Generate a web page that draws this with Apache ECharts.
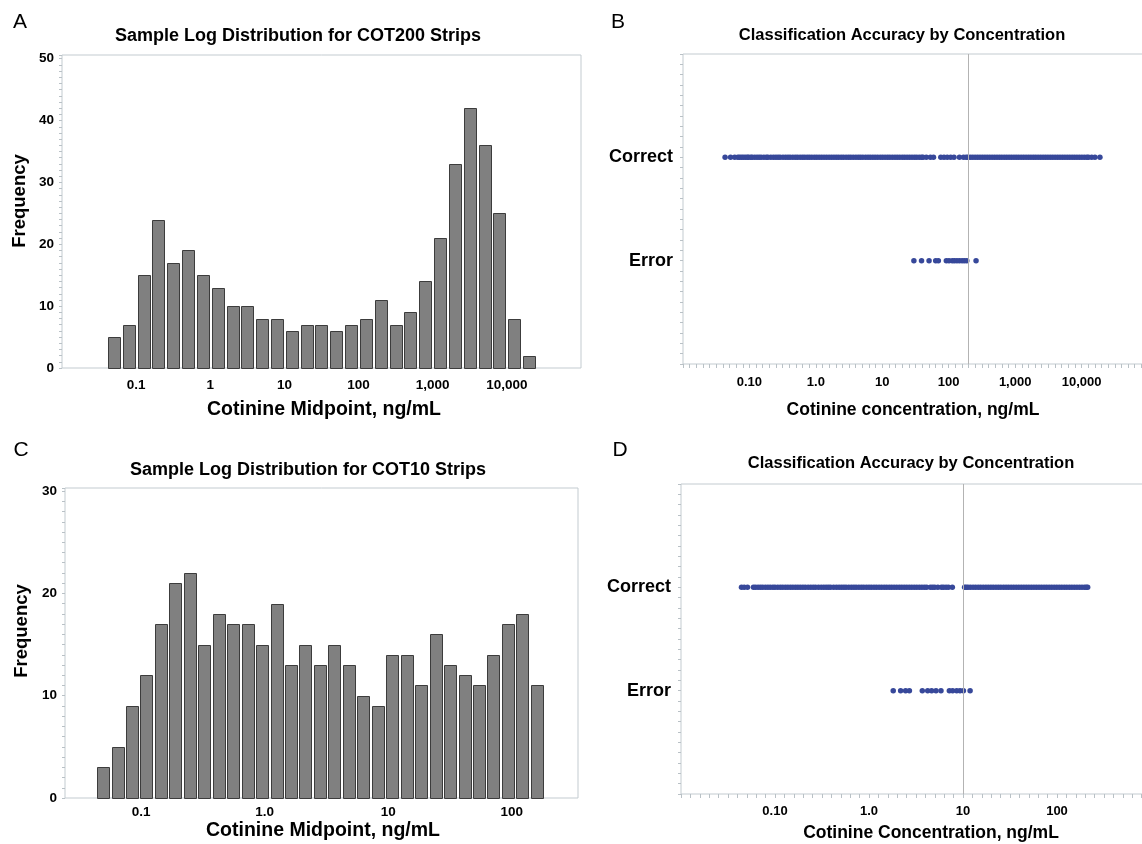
<!DOCTYPE html>
<html>
<head>
    <meta charset="utf-8">
    <title>Cotinine strips</title>
    <script src="https://cdn.jsdelivr.net/npm/echarts@6.0.0/dist/echarts.min.js"></script>
    <style>
      body, canvas {
        padding: 0;
        margin: 0;
      }
    </style>
</head>
<body>
    <div id="main" style="width:1142px;height:844px"></div>
    <script type="text/javascript">
      // panel A: COT200 histogram (bin midpoints in ng/mL)
      const cot200Mid = [0.05, 0.079, 0.126, 0.2, 0.316, 0.5, 0.794, 1.26, 2, 3.16, 5, 7.94, 12.6, 20, 31.6,
        50, 79.4, 126, 200, 316, 501, 794, 1259, 1995, 3162, 5012, 7943, 12589, 19953];
      const cot200Freq = [5, 7, 15, 24, 17, 19, 15, 13, 10, 10, 8, 8, 6, 7, 7,
        6, 7, 8, 11, 7, 9, 14, 21, 33, 42, 36, 25, 8, 2];

      // panel C: COT10 histogram
      const cot10Mid = [0.0492, 0.0644, 0.0843, 0.1104, 0.1445, 0.1892, 0.2477, 0.3243, 0.4246, 0.5559, 0.7278,
        0.9528, 1.247, 1.633, 2.138, 2.799, 3.664, 4.797, 6.281, 8.222, 10.76, 14.09, 18.45, 24.15,
        31.62, 41.4, 54.2, 70.96, 92.9, 121.6, 159.2];
      const cot10Freq = [3, 5, 9, 12, 17, 21, 22, 15, 18, 17, 17, 15, 19, 13, 15, 13, 15, 13, 10, 9,
        14, 14, 11, 16, 13, 12, 11, 14, 17, 18, 11];

      // panel B: COT200 classification by concentration
      const cot200Cutoff = 200;
      const cot200Correct = [0.043, 0.052, 0.06, 0.067, 0.071, 0.076, 0.081, 0.087, 0.093, 0.097, 0.105, 0.11,
        0.12, 0.13, 0.14, 0.15, 0.165, 0.18, 0.19, 0.21, 0.23, 0.25, 0.27, 0.29, 0.32, 0.35, 0.38, 0.41,
        0.45, 0.49, 0.53, 0.58, 0.63, 0.68, 0.74, 0.8, 0.87, 0.95, 1.03, 1.12, 1.22, 1.33, 1.45, 1.58,
        1.72, 1.87, 2.03, 2.2, 2.4, 2.6, 2.85, 3.1, 3.35, 3.65, 4, 4.35, 4.7, 5.1, 5.6, 6.1, 6.6, 7.2,
        7.8, 8.5, 9.3, 10.1, 11, 12, 13, 14.2, 15.5, 16.8, 18.3, 20, 21.7, 23.6, 25.7, 28, 30.5, 33, 36,
        39, 41, 46, 53, 59, 76, 85, 95, 107, 120, 145, 167, 183, 195, 212, 230, 250, 272, 296, 322, 350,
        380, 414, 450, 490, 533, 580, 630, 685, 745, 810, 880, 960, 1040, 1130, 1230, 1340, 1460, 1590,
        1730, 1880, 2040, 2220, 2420, 2630, 2860, 3110, 3380, 3680, 4000, 4350, 4730, 5150, 5600, 6090,
        6620, 7200, 7830, 8520, 9270, 10100, 11000, 12000, 12700, 14200, 15900, 18900];
      const cot200Error = [29.9, 39, 50.6, 63.7, 69.8, 92, 101, 113, 122, 133, 145, 159, 172, 187, 258];

      // panel D: COT10 classification by concentration
      const cot10Cutoff = 10;
      const cot10Correct = [0.044, 0.047, 0.051, 0.059, 0.062, 0.066, 0.07, 0.074, 0.079, 0.084, 0.089, 0.095,
        0.1, 0.107, 0.114, 0.121, 0.129, 0.137, 0.146, 0.155, 0.165, 0.175, 0.186, 0.198, 0.21, 0.225,
        0.24, 0.255, 0.27, 0.29, 0.31, 0.33, 0.35, 0.37, 0.39, 0.42, 0.45, 0.48, 0.51, 0.54, 0.57, 0.61,
        0.65, 0.69, 0.73, 0.78, 0.83, 0.88, 0.94, 1, 1.06, 1.13, 1.2, 1.28, 1.36, 1.45, 1.54, 1.64, 1.74,
        1.85, 1.97, 2.1, 2.23, 2.37, 2.52, 2.68, 2.85, 3.03, 3.22, 3.43, 3.65, 3.88, 4.1, 4.5, 4.75, 5,
        5.4, 5.9, 6.2, 6.6, 7, 7.7, 10.4, 10.8, 11.3, 12, 12.8, 13.6, 14.5, 15.4, 16.4, 17.5, 18.6, 19.8,
        21, 22.4, 23.8, 25.3, 27, 28.7, 30.5, 32.5, 34.6, 36.8, 39.2, 41.7, 44.4, 47.2, 50.2, 53.4, 56.8,
        60.4, 64.3, 68.4, 72.8, 77.4, 82.4, 87.7, 93.3, 99.3, 105.6, 112.4, 119.6, 127.2, 135.4, 144, 153,
        163, 173.5, 184.6, 196.5, 205, 212];
      const cot10Error = [1.81, 2.17, 2.45, 2.69, 3.69, 4.21, 4.64, 5.16, 5.83, 7.16, 7.76, 8.57, 9.29, 10.1, 11.9];

      // tick labels
      const ticksA = [0.1, 1, 10, 100, 1000, 10000];
      const tickTextA = ['0.1', '1', '10', '100', '1,000', '10,000'];
      const ticksB = [0.1, 1, 10, 100, 1000, 10000];
      const tickTextB = ['0.10', '1.0', '10', '100', '1,000', '10,000'];
      const ticksC = [0.1, 1, 10, 100];
      const tickTextC = ['0.1', '1.0', '10', '100'];
      const ticksD = [0.1, 1, 10, 100];
      const tickTextD = ['0.10', '1.0', '10', '100'];
      const rowNames = ['Error', 'Correct'];   // drawn at y = 1, 2

      const FONT = '"Liberation Sans", Arial, sans-serif';
      const BORDER = '#c3cbd0';
      const TICK = '#b9c1c6';
      const DOT = '#37489a';

      function logLabel(ticks, texts) {
        return function (v) {
          for (let i = 0; i < ticks.length; i++) {
            if (Math.abs(Math.log10(v) - Math.log10(ticks[i])) < 1e-6) return texts[i];
          }
          return '';
        };
      }

      function barRenderer(step, ratio) {
        return function (params, api) {
          const mid = api.value(0);
          const top = api.coord([mid, api.value(1)]);
          const base = api.coord([mid, 0]);
          const next = api.coord([mid * Math.pow(10, step), 0]);
          const w = Math.round((next[0] - base[0]) * ratio);
          const x0 = Math.round(top[0] - w / 2) + 0.5;
          const y0 = Math.round(top[1]) + 0.5;
          return {
            type: 'rect',
            shape: { x: x0, y: y0, width: w, height: Math.round(base[1]) - Math.round(top[1]) },
            style: { fill: '#808080', stroke: '#3c3c3c', lineWidth: 1 }
          };
        };
      }

      function histX(grid, min, max, ticks, texts, margin) {
        return {
          type: 'log', logBase: 10, gridIndex: grid, min: min, max: max, position: 'bottom',
          axisLine: { show: false, onZero: false }, axisTick: { show: false }, splitLine: { show: false },
          axisLabel: { formatter: logLabel(ticks, texts), margin: margin, color: '#000',
            fontFamily: FONT, fontWeight: 'bold', fontSize: 13.5 }
        };
      }

      function histY(grid, max) {
        return {
          type: 'value', gridIndex: grid, min: 0, max: max, interval: 1, position: 'left',
          axisLine: { show: false, onZero: false }, splitLine: { show: false },
          axisTick: { show: true, length: 3, lineStyle: { color: TICK } },
          axisLabel: {
            formatter: function (v) { return (Number.isInteger(v) && v % 10 === 0) ? String(v) : ''; },
            margin: 8, color: '#000', fontFamily: FONT, fontWeight: 'bold', fontSize: 13.5
          }
        };
      }

      function dotX(grid, max, ticks, texts, margin) {
        return {
          type: 'log', logBase: 10, gridIndex: grid, min: 0.01, max: max, position: 'bottom',
          axisLine: { show: false, onZero: false }, splitLine: { show: false }, axisTick: { show: false },
          axisLabel: { formatter: logLabel(ticks, texts), margin: margin, color: '#000',
            fontFamily: FONT, fontWeight: 'bold', fontSize: 13 }
        };
      }

      // evenly spaced tick marks along the bottom of the dot plots (decades in tenths)
      function tickRuler(grid, decades) {
        return {
          type: 'value', gridIndex: grid, min: -2, max: decades, interval: 0.1, position: 'bottom',
          axisLine: { show: false, onZero: false }, splitLine: { show: false }, axisLabel: { show: false },
          axisTick: { show: true, length: 4, lineStyle: { color: TICK } }
        };
      }

      function dotY(grid) {
        return {
          type: 'value', gridIndex: grid, min: 0, max: 3, interval: 0.1, position: 'left',
          axisLine: { show: false, onZero: false }, splitLine: { show: false },
          axisTick: { show: true, length: 3, lineStyle: { color: TICK } },
          axisLabel: {
            formatter: function (v) {
              for (let i = 0; i < rowNames.length; i++) {
                if (Math.abs(v - (i + 1)) < 1e-6) return rowNames[i];
              }
              return '';
            },
            margin: 10, color: '#000', fontFamily: FONT, fontWeight: 'bold', fontSize: 18
          }
        };
      }

      function dots(grid, values, row, cutoff) {
        const s = {
          type: 'scatter', xAxisIndex: grid, yAxisIndex: grid,
          symbol: 'circle', symbolSize: 5.5, itemStyle: { color: DOT, opacity: 1 },
          data: values.map(function (v) { return [v, row]; })
        };
        if (cutoff) {
          s.markLine = {
            silent: true, symbol: 'none', label: { show: false },
            lineStyle: { color: '#b3b3b3', width: 1, type: 'solid' },
            data: [{ xAxis: cutoff }]
          };
        }
        return s;
      }

      function txt(x, y, text, font, rot) {
        return {
          type: 'text', x: x, y: y, rotation: rot || 0,
          style: { text: text, font: font, fill: '#000', align: 'center', verticalAlign: 'middle' }
        };
      }

      function panel(left, top, width, height) {
        return { left: left, top: top, width: width, height: height, outerBoundsMode: 'none',
          containLabel: false, show: true, borderColor: BORDER, borderWidth: 1 };
      }

      const myChart = echarts.init(document.getElementById('main'));
      const option = {
        animation: false,
        backgroundColor: '#fff',
        grid: [
          panel(62, 55, 519, 313),
          panel(683, 54, 465, 310),
          panel(65, 488, 513, 310),
          panel(681, 484, 470, 310)
        ],
        xAxis: [
          histX(0, 0.01, 100000, ticksA, tickTextA, 10),
          dotX(1, 100000, ticksB, tickTextB, 12),
          histX(2, 0.0242, 343, ticksC, tickTextC, 7),
          dotX(3, 1000, ticksD, tickTextD, 11),
          tickRuler(1, 5),
          tickRuler(3, 3)
        ],
        yAxis: [histY(0, 50.6), dotY(1), histY(2, 30.3), dotY(3)],
        series: [
          { type: 'custom', xAxisIndex: 0, yAxisIndex: 0, renderItem: barRenderer(0.2, 0.78),
            data: cot200Mid.map(function (m, i) { return [m, cot200Freq[i]]; }) },
          { type: 'custom', xAxisIndex: 2, yAxisIndex: 2, renderItem: barRenderer(0.117, 0.82),
            data: cot10Mid.map(function (m, i) { return [m, cot10Freq[i]]; }) },
          dots(1, cot200Correct, 2, cot200Cutoff),
          dots(1, cot200Error, 1),
          dots(3, cot10Correct, 2, cot10Cutoff),
          dots(3, cot10Error, 1)
        ],
        graphic: [
          txt(20, 22, 'A', '21px ' + FONT),
          txt(618, 22, 'B', '21px ' + FONT),
          txt(21, 450, 'C', '21px ' + FONT),
          txt(620, 450, 'D', '21px ' + FONT),
          txt(298, 36, 'Sample Log Distribution for COT200 Strips', 'bold 18px ' + FONT),
          txt(902, 35, 'Classification Accuracy by Concentration', 'bold 16.5px ' + FONT),
          txt(308, 470, 'Sample Log Distribution for COT10 Strips', 'bold 18px ' + FONT),
          txt(911, 463, 'Classification Accuracy by Concentration', 'bold 16.5px ' + FONT),
          txt(324, 410, 'Cotinine Midpoint, ng/mL', 'bold 19.5px ' + FONT),
          txt(913, 410, 'Cotinine concentration, ng/mL', 'bold 17.5px ' + FONT),
          txt(323, 831, 'Cotinine Midpoint, ng/mL', 'bold 19.5px ' + FONT),
          txt(931, 833, 'Cotinine Concentration, ng/mL', 'bold 17.5px ' + FONT),
          txt(20, 201, 'Frequency', 'bold 18.5px ' + FONT, Math.PI / 2),
          txt(22, 631, 'Frequency', 'bold 18.5px ' + FONT, Math.PI / 2)
        ]
      };
      myChart.setOption(option);
    </script>
</body>
</html>
